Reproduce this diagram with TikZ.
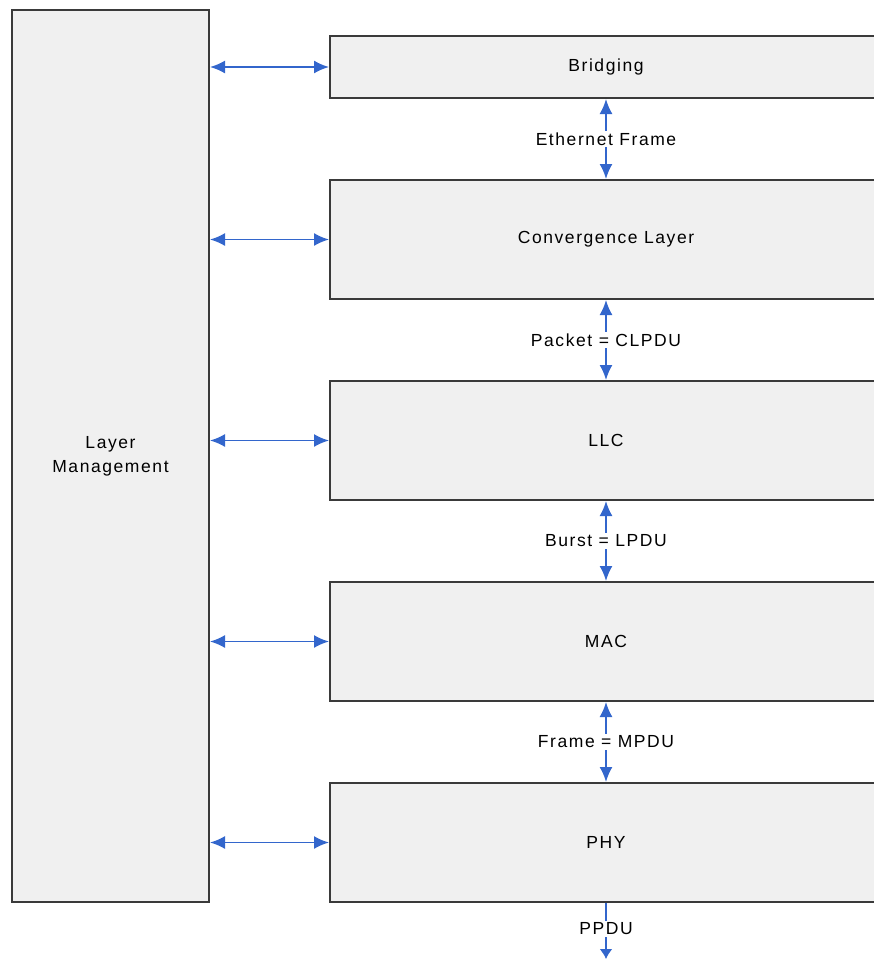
\documentclass[tikz,border=0pt]{standalone}
\usepackage{fontspec}
\setmainfont[LetterSpace=9]{Liberation Sans}
\usetikzlibrary{positioning, arrows.meta}
\definecolor{boxfill}{HTML}{F0F0F0}
\definecolor{boxline}{HTML}{3A3A3A}
\definecolor{linkblue}{HTML}{3366CC}
\tikzstyle{layer} = [rectangle, minimum width=552pt, minimum height=119pt, text centered, draw=boxline, fill=boxfill, line width=2pt]
\tikzstyle{mgmt} = [rectangle, minimum width=197pt, minimum height=892pt, align=center, draw=boxline, fill=boxfill, line width=2pt, anchor=north west]
\tikzstyle{arrow} = [draw=linkblue, line width=1.8pt, {Latex[length=15pt,width=13pt]}-{Latex[length=15pt,width=13pt]}]
\tikzstyle{pdu} = [fill=white, inner sep=2pt]

\begin{document}
\begin{tikzpicture}[x=1pt, y=-1pt, font=\fontsize{17.5}{24}\selectfont]
	\path[use as bounding box, clip] (0,0) rectangle (874,962);
	% management column
	\node (mgmt) [mgmt] at (11,9) {Layer\\Management};
	% protocol stack
	\node (br) [layer, minimum height=62pt] at (606,67) {Bridging};
	\node (conv) [layer, below=80pt of br] {Convergence Layer};
	\node (llc) [layer, below=80pt of conv] {LLC};
	\node (mac) [layer, below=80pt of llc] {MAC};
	\node (phy) [layer, below=80pt of mac] {PHY};
	\coordinate (out) at (606,959);
	% management links
	\foreach \l in {br, conv, llc, mac, phy}
		\draw [arrow] (mgmt.east |- \l.west) -- (\l.west);
	% data units
	\draw [arrow] (br.south) -- node [pdu] {Ethernet Frame} (conv.north);
	\draw [arrow] (conv.south) -- node [pdu] {Packet = CLPDU} (llc.north);
	\draw [arrow] (llc.south) -- node [pdu] {Burst = LPDU} (mac.north);
	\draw [arrow] (mac.south) -- node [pdu] {Frame = MPDU} (phy.north);
	\draw [arrow, {-Latex[length=10pt,width=13pt]}] (phy.south) -- node [pdu, yshift=2pt] {PPDU} (out);
\end{tikzpicture}
\end{document}
